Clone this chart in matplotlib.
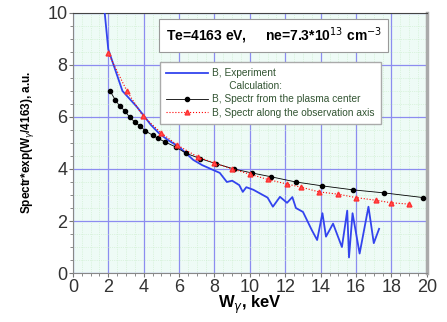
import numpy as np
import matplotlib
matplotlib.use("Agg")
import matplotlib.pyplot as plt
from matplotlib.ticker import MultipleLocator

plt.rcParams['font.family'] = ['Liberation Sans', 'DejaVu Sans']

# experiment (blue)
exp_x = [1.8, 2.0, 2.3, 2.8, 3.2, 3.6, 3.95, 4.4, 4.9, 5.4, 6.0, 6.4, 6.8, 7.3, 7.8, 8.3, 8.7,
         9.0, 9.4, 9.6, 9.8, 10.2, 10.6, 11.0, 11.3, 11.7, 12.1, 12.4, 12.6, 13.0, 13.5, 13.8,
         14.1, 14.3, 14.7, 15.2, 15.5, 15.6, 15.8, 16.2, 16.7, 17.0, 17.3]
exp_y = [10.0, 8.6, 8.0, 7.0, 6.7, 6.4, 6.1, 5.7, 5.35, 5.1, 4.85, 4.6, 4.35, 4.15, 4.0, 3.85, 3.5,
         3.55, 3.38, 3.12, 3.3, 3.2, 3.05, 2.9, 2.55, 2.93, 2.7, 2.92, 2.5, 2.35, 1.65, 1.27,
         2.3, 1.4, 1.9, 1.0, 2.4, 0.6, 2.3, 0.75, 2.55, 1.15, 1.7]

# spectr from the plasma center (black)
cen_x = [2.1, 2.4, 2.65, 2.94, 3.2, 3.5, 3.8, 4.1, 4.5, 4.8, 5.2, 5.8, 6.4, 7.2, 8.1, 9.1,
         10.1, 11.2, 12.6, 14.1, 15.8, 17.6, 19.8]
cen_y = [7.0, 6.65, 6.42, 6.23, 6.0, 5.8, 5.65, 5.46, 5.3, 5.18, 5.04, 4.85, 4.6, 4.4, 4.2, 4.0,
         3.85, 3.7, 3.5, 3.35, 3.2, 3.08, 2.9]

# spectr along the observation axis (red)
obs_x = [2.0, 3.05, 3.95, 5.0, 5.9, 7.06, 8.0, 9.0, 10.0, 11.0, 12.1, 12.9, 13.9, 15.0, 16.0,
         17.1, 18.0, 19.0]
obs_y = [8.45, 7.0, 6.04, 5.38, 4.92, 4.46, 4.23, 4.0, 3.8, 3.6, 3.42, 3.3, 3.12, 3.03, 2.9,
         2.8, 2.7, 2.65]

fig = plt.figure(figsize=(4.47, 3.22), dpi=100)
ax = fig.add_axes([0.163, 0.152, 0.792, 0.808])
ax.set_facecolor('#eefbf6')

ax.plot(exp_x, exp_y, color='#3344ee', lw=1.3, label='B, Experiment', zorder=3)
ax.plot([], [], ' ', label='      Calculation:')
ax.plot(cen_x, cen_y, color='black', lw=0.6, marker='o', ms=3.0,
        label='B, Spectr from the plasma center', zorder=4)
ax.plot(obs_x, obs_y, color='red', lw=0.8, ls=':', marker='^', ms=3.5, mfc='#ff5050', mec='#ff3030',
        label='B, Spectr along the observation axis', zorder=5)

ax.set_xlim(0, 20)
ax.set_ylim(0, 10)
ax.xaxis.set_major_locator(MultipleLocator(2))
ax.yaxis.set_major_locator(MultipleLocator(2))
ax.xaxis.set_minor_locator(MultipleLocator(0.5))
ax.yaxis.set_minor_locator(MultipleLocator(0.5))
ax.grid(which='major', color='#8c8cf0', lw=0.9)
ax.grid(which='minor', color='#c8ecc8', lw=0.5, ls=':')
ax.set_axisbelow(True)
ax.tick_params(labelsize=13, length=3, color='#777777', pad=1, labelcolor='#333333')
ax.tick_params(which='minor', length=2, color='#777777')
for s in ax.spines.values():
    s.set_color('#888888')
ax.spines['right'].set_linewidth(2.5)
ax.spines['right'].set_color('#aaaaaa')
ax.spines['top'].set_color('#444444')

ax.set_xlabel('W$_\\gamma$, keV', fontsize=12, fontweight='bold', labelpad=-1)
ax.set_ylabel('Spectr*exp(W$_\\gamma$/4163), a.u.', fontsize=8.5, fontweight='bold', labelpad=8)

ax.text(0.262, 0.912,
        'Te=4163 eV,     ne=7.3*10$^{13}$ cm$^{-3}$', transform=ax.transAxes,
        fontsize=10, fontweight='bold', va='center',
        bbox=dict(boxstyle='square,pad=0.45', fc='white', ec='#999999', lw=0.8))

leg = ax.legend(loc='upper left', bbox_to_anchor=(0.245, 0.81), fontsize=7.3, frameon=True,
                fancybox=False, edgecolor='#aaaaaa', framealpha=1, handlelength=4.2,
                borderpad=0.6, labelspacing=0.3, handletextpad=0.4, borderaxespad=0)
for t in leg.get_texts():
    t.set_color('#335533')

fig.savefig('out.png', dpi=100)
